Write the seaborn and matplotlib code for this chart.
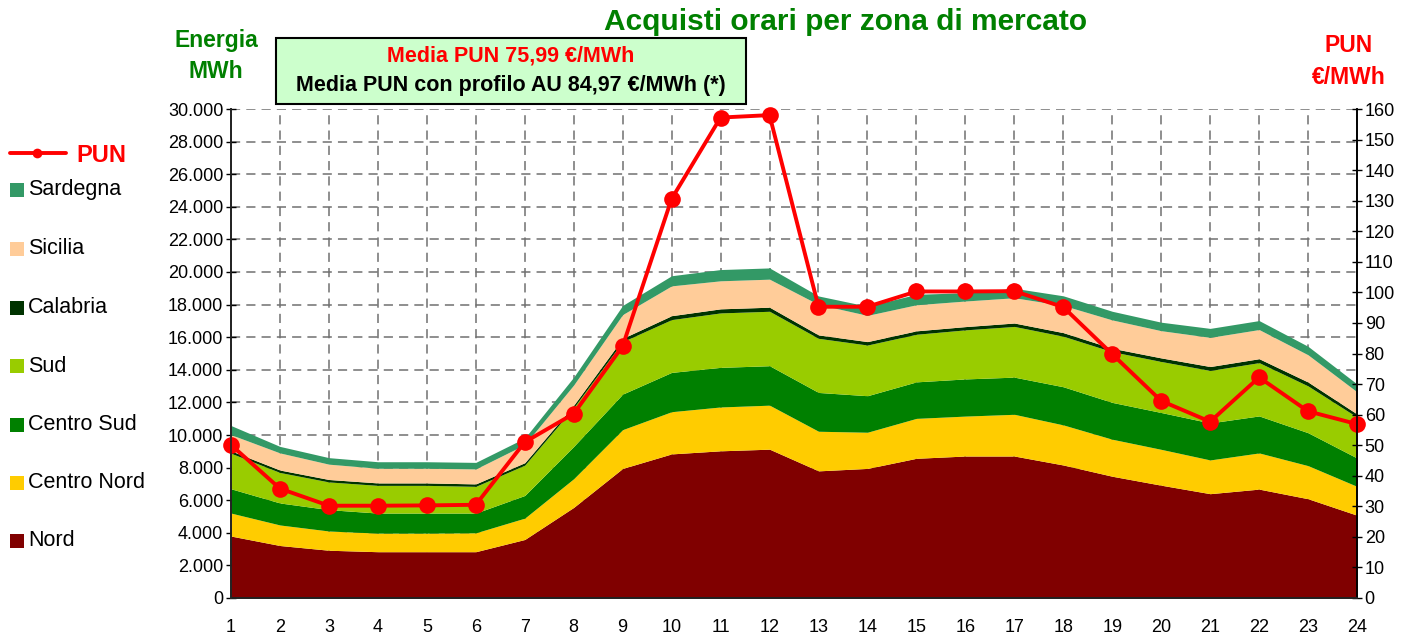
import matplotlib
matplotlib.use("Agg")
import matplotlib.pyplot as plt
import seaborn as sns
import pandas as pd
from matplotlib.ticker import FuncFormatter, MultipleLocator
from matplotlib.patches import Rectangle
from matplotlib.lines import Line2D

# ore e acquisti per zona (MWh)
hours = list(range(1, 25))
nord = [3800, 3220, 2930, 2840, 2840, 2840, 3590, 5560, 7950, 8840, 9030, 9130,
        7800, 7950, 8570, 8710, 8710, 8160, 7470, 6920, 6400, 6680, 6090, 5080]
centro_nord = [1410, 1260, 1180, 1140, 1140, 1160, 1310, 1760, 2380, 2590, 2690, 2700,
               2430, 2220, 2450, 2450, 2560, 2460, 2270, 2200, 2070, 2220, 2030, 1770]
centro_sud = [1490, 1350, 1310, 1230, 1230, 1210, 1390, 1980, 2180, 2410, 2430, 2420,
              2380, 2240, 2240, 2280, 2280, 2340, 2260, 2260, 2270, 2270, 2020, 1740]
sud = [2180, 1870, 1700, 1700, 1700, 1640, 1860, 2380, 3220, 3240, 3340, 3340,
       3320, 3110, 2920, 3010, 3110, 3100, 3110, 3130, 3220, 3270, 2870, 2510]
calabria = [150, 150, 150, 150, 150, 150, 150, 150, 200, 240, 250, 250,
            210, 210, 210, 200, 210, 220, 210, 220, 240, 240, 240, 190]
sicilia = [990, 1050, 940, 900, 900, 920, 1110, 1240, 1460, 1830, 1720, 1720,
           1870, 1610, 1600, 1570, 1550, 1670, 1740, 1670, 1790, 1790, 1670, 1360]
sardegna = [560, 400, 400, 400, 400, 400, 400, 480, 560, 620, 690, 690,
            520, 560, 640, 510, 580, 590, 530, 520, 550, 550, 520, 480]
# PUN (euro/MWh)
pun = [50.1, 35.8, 30.2, 30.2, 30.3, 30.5, 51.0, 60.3, 82.4, 130.6, 157.2, 158.0,
       95.3, 95.3, 100.3, 100.3, 100.4, 95.2, 79.8, 64.5, 57.7, 72.2, 61.1, 56.9]

zone_names = ["Nord", "Centro Nord", "Centro Sud", "Sud", "Calabria", "Sicilia", "Sardegna"]
zone_colors = ["#800000", "#FFCC00", "#008000", "#99CC00", "#003300", "#FFCC99", "#339966"]

sns.set_theme(style="white")
plt.rcParams['font.family'] = ['Liberation Sans', 'DejaVu Sans']

W, H = 1415, 635
fig = plt.figure(figsize=(W / 100, H / 100), dpi=100)
ax = fig.add_axes([231 / W, 1 - 598 / H, 1126 / W, 489 / H])

ax.stackplot(hours, nord, centro_nord, centro_sud, sud, calabria, sicilia, sardegna,
             colors=zone_colors, linewidth=0)
ax.set_xlim(1, 24)
ax.set_ylim(0, 30000)
ax.set_xticks(hours)
ax.yaxis.set_major_locator(MultipleLocator(2000))
ax.yaxis.set_major_formatter(FuncFormatter(lambda v, p: f"{int(v):,}".replace(",", ".")))
ax.grid(True, color="#707070", linestyle=(0, (6, 4)), linewidth=1.1)
ax.set_axisbelow(True)
ax.spines["top"].set_visible(False)
for s in ["left", "bottom", "right"]:
    ax.spines[s].set_color("black")
    ax.spines[s].set_linewidth(1.2)
ax.tick_params(axis="y", direction="inout", length=7, width=1, colors="black", labelsize=13, pad=2)
ax.tick_params(axis="x", direction="out", length=5, width=1, colors="black", labelsize=13, pad=10)

ax2 = ax.twinx()
df = pd.DataFrame({"ora": hours, "pun": pun})
sns.lineplot(data=df, x="ora", y="pun", ax=ax2, color="#FF0000", linewidth=2.8,
             marker="o", markersize=12, markeredgewidth=0, clip_on=False)
ax2.set_ylim(0, 160)
ax2.yaxis.set_major_locator(MultipleLocator(10))
ax2.set_xlabel("")
ax2.set_ylabel("")
ax2.spines["top"].set_visible(False)
ax2.spines["right"].set_color("black")
ax2.spines["right"].set_linewidth(1.2)
ax2.tick_params(axis="y", direction="inout", length=7, width=1, colors="black", labelsize=13, pad=2)
ax.set_xlabel("")
ax.set_ylabel("")


def fx(px):
    return px / W


def fy(py):
    return 1 - py / H


# titoli
fig.text(fx(846), fy(22), "Acquisti orari per zona di mercato", ha="center", va="center",
         fontsize=21.5, fontweight="bold", color="#008000")
fig.text(fx(216), fy(40), "Energia", ha="center", va="center", fontsize=16.5,
         fontweight="bold", color="#008000")
fig.text(fx(216), fy(72), "MWh", ha="center", va="center", fontsize=16.5,
         fontweight="bold", color="#008000")
fig.text(fx(1349), fy(46), "PUN", ha="center", va="center", fontsize=16.5,
         fontweight="bold", color="#FF0000")
fig.text(fx(1349), fy(77), "€/MWh", ha="center", va="center", fontsize=16.5,
         fontweight="bold", color="#FF0000")

# riquadro media
fig.add_artist(Rectangle((fx(276), fy(104)), 470 / W, 66 / H, transform=fig.transFigure,
                         facecolor="#CCFFCC", edgecolor="black", linewidth=1.5))
fig.text(fx(511), fy(56), "Media PUN 75,99 €/MWh", ha="center", va="center",
         fontsize=15.5, fontweight="bold", color="#FF0000")
fig.text(fx(511), fy(85), "Media PUN con profilo AU 84,97 €/MWh (*)", ha="center", va="center",
         fontsize=15.5, fontweight="bold", color="black")

# legenda
fig.add_artist(Line2D([fx(10), fx(66)], [fy(153), fy(153)], transform=fig.transFigure,
                      color="#FF0000", linewidth=2.8))
fig.add_artist(Line2D([fx(37)], [fy(153)], transform=fig.transFigure, color="#FF0000",
                      marker="o", markersize=7, markeredgewidth=0))
fig.text(fx(76), fy(155), "PUN", ha="left", va="center", fontsize=17,
         fontweight="bold", color="#FF0000")
legend_y = [190, 249, 308, 366, 425, 483, 541]
for name, color, py in zip(zone_names[::-1], zone_colors[::-1], legend_y):
    fig.add_artist(Rectangle((fx(10), fy(py + 7)), 14 / W, 14 / H, transform=fig.transFigure,
                             facecolor=color, edgecolor="none"))
    fig.text(fx(28), fy(py), name, ha="left", va="center", fontsize=15.5, color="black")

fig.savefig("out.png", dpi=100)
